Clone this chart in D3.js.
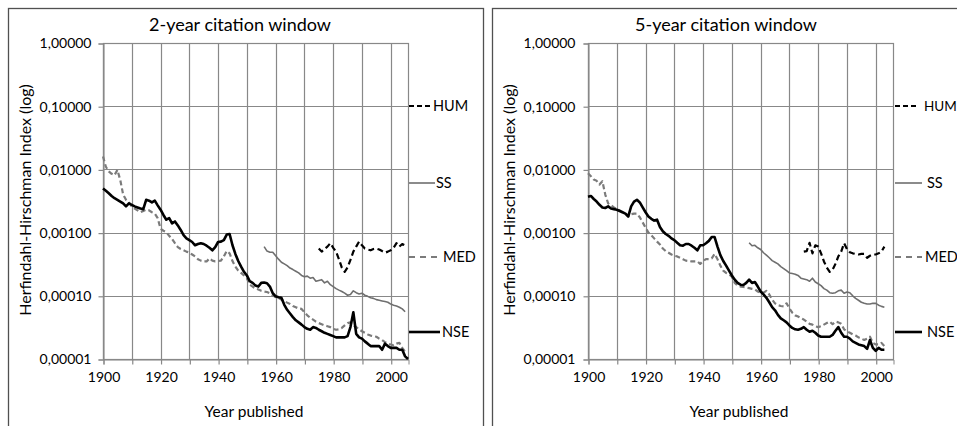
<!DOCTYPE html>
<html><head><meta charset="utf-8">
<script src="https://cdn.jsdelivr.net/npm/d3@7"></script>
<style>body{margin:0;background:#fff}svg{display:block}</style>
</head><body>
<svg id="c" width="957" height="426"></svg>
<script>
// ---------- DATA (Herfindahl-Hirschman Index) ----------
const panelTitles = ["2-year citation window", "5-year citation window"];
const seriesNames = ["HUM", "SS", "MED", "NSE"];
const xTickYears = [1900, 1920, 1940, 1960, 1980, 2000];
const xGridYears = [1900, 1910, 1920, 1930, 1940, 1950, 1960, 1970, 1980, 1990, 2000];
const yTickValues = [1, 0.1, 0.01, 0.001, 0.0001, 0.00001];

// 2-year window
const nse2Start = 1900;
const nse2 = [5.0e-3,4.6e-3,4.2e-3,3.8e-3,3.5e-3,3.3e-3,3.1e-3,2.9e-3,2.6e-3,2.9e-3,
  2.75e-3,2.6e-3,2.5e-3,2.4e-3,2.35e-3,3.3e-3,3.2e-3,3.0e-3,3.2e-3,2.7e-3,
  2.3e-3,1.9e-3,1.6e-3,1.7e-3,1.4e-3,1.5e-3,1.3e-3,1.1e-3,9.1e-4,8.1e-4,
  7.6e-4,7.1e-4,6.3e-4,6.6e-4,6.8e-4,6.6e-4,6.2e-4,5.75e-4,5.25e-4,5.9e-4,
  7.1e-4,7.2e-4,7.6e-4,9.3e-4,9.5e-4,6.3e-4,4.6e-4,3.55e-4,2.9e-4,2.4e-4,
  2.1e-4,1.7e-4,1.6e-4,1.45e-4,1.4e-4,1.6e-4,1.62e-4,1.58e-4,1.4e-4,1.1e-4,
  9.8e-5,9.5e-5,9.3e-5,7.2e-5,6.0e-5,5.25e-5,4.6e-5,4.1e-5,3.8e-5,3.5e-5,
  3.2e-5,3.0e-5,2.9e-5,3.2e-5,3.1e-5,2.9e-5,2.75e-5,2.6e-5,2.5e-5,2.4e-5,
  2.3e-5,2.2e-5,2.2e-5,2.2e-5,2.2e-5,2.3e-5,3.2e-5,5.5e-5,2.5e-5,2.2e-5,
  2.1e-5,1.9e-5,1.75e-5,1.6e-5,1.6e-5,1.6e-5,1.6e-5,1.4e-5,1.75e-5,1.6e-5,
  1.5e-5,1.5e-5,1.5e-5,1.4e-5,1.4e-5,1.1e-5,1.0e-5];
const med2Start = 1900;
const med2 = [1.6e-2,1.1e-2,9.3e-3,8.5e-3,8.1e-3,9.8e-3,6.8e-3,4.0e-3,3.3e-3,3.0e-3,
  2.6e-3,2.4e-3,2.25e-3,2.1e-3,2.2e-3,2.3e-3,2.25e-3,2.1e-3,2.0e-3,1.7e-3,
  1.15e-3,1.07e-3,1.02e-3,8.9e-4,7.9e-4,6.8e-4,5.9e-4,5.5e-4,5.25e-4,5.0e-4,
  4.8e-4,4.5e-4,4.2e-4,3.8e-4,3.6e-4,3.5e-4,3.5e-4,3.9e-4,3.6e-4,3.5e-4,
  3.55e-4,3.6e-4,4.2e-4,5.1e-4,4.7e-4,3.55e-4,2.9e-4,2.5e-4,2.3e-4,2.1e-4,
  1.9e-4,1.5e-4,1.4e-4,1.3e-4,1.26e-4,1.2e-4,1.17e-4,1.15e-4,1.1e-4,1.02e-4,
  9.5e-5,9.3e-5,8.7e-5,8.3e-5,7.8e-5,7.4e-5,6.9e-5,6.6e-5,6.3e-5,6.2e-5,
  5.5e-5,4.9e-5,4.5e-5,4.2e-5,3.9e-5,3.7e-5,3.55e-5,3.4e-5,3.3e-5,3.2e-5,
  3.0e-5,2.9e-5,2.95e-5,3.1e-5,3.4e-5,3.7e-5,3.8e-5,3.4e-5,3.2e-5,2.95e-5,
  2.75e-5,2.6e-5,2.45e-5,2.35e-5,2.3e-5,2.25e-5,2.1e-5,2.0e-5,1.85e-5,1.75e-5,
  1.7e-5,1.65e-5,1.75e-5,1.8e-5,1.5e-5,1.3e-5];
const ss2Start = 1956;
const ss2 = [6.0e-4,5.1e-4,4.9e-4,4.9e-4,4.3e-4,3.8e-4,3.4e-4,3.2e-4,3.0e-4,2.75e-4,
  2.6e-4,2.45e-4,2.3e-4,2.1e-4,2.0e-4,2.05e-4,1.9e-4,1.95e-4,1.7e-4,1.75e-4,
  1.8e-4,1.6e-4,1.7e-4,1.5e-4,1.4e-4,1.3e-4,1.23e-4,1.17e-4,1.1e-4,1.02e-4,
  1.05e-4,1.2e-4,1.12e-4,1.07e-4,1.1e-4,1.02e-4,9.8e-5,9.3e-5,9.1e-5,8.7e-5,
  8.5e-5,8.3e-5,8.1e-5,7.9e-5,7.4e-5,7.1e-5,6.9e-5,6.6e-5,6.2e-5,5.6e-5];
const hum2Start = 1975;
const hum2 = [5.6e-4,5.0e-4,5.5e-4,6.0e-4,6.8e-4,5.75e-4,5.0e-4,3.8e-4,2.8e-4,2.4e-4,
  2.8e-4,3.7e-4,5.0e-4,6.0e-4,7.2e-4,6.3e-4,5.6e-4,5.4e-4,5.25e-4,5.5e-4,
  5.6e-4,5.4e-4,5.1e-4,4.8e-4,5.0e-4,5.25e-4,5.75e-4,6.8e-4,6.0e-4,6.6e-4,6.3e-4];

// 5-year window
const nse5Start = 1900;
const nse5 = [3.7e-3,3.8e-3,3.4e-3,3.1e-3,2.75e-3,2.5e-3,2.45e-3,2.6e-3,2.4e-3,2.35e-3,
  2.3e-3,2.2e-3,2.1e-3,2.0e-3,1.8e-3,2.6e-3,3.1e-3,3.3e-3,3.0e-3,2.5e-3,
  2.1e-3,1.8e-3,1.65e-3,1.55e-3,1.6e-3,1.23e-3,1.05e-3,9.5e-4,8.9e-4,8.1e-4,
  7.6e-4,6.9e-4,6.3e-4,6.2e-4,6.6e-4,6.6e-4,6.2e-4,5.75e-4,5.25e-4,6.3e-4,
  6.3e-4,6.8e-4,7.4e-4,8.5e-4,8.5e-4,6.0e-4,4.4e-4,3.55e-4,3.0e-4,2.5e-4,
  2.1e-4,1.8e-4,1.6e-4,1.5e-4,1.48e-4,1.6e-4,1.8e-4,1.6e-4,1.65e-4,1.4e-4,
  1.17e-4,1.05e-4,9.3e-5,7.9e-5,6.6e-5,5.9e-5,5.0e-5,4.4e-5,4.1e-5,3.8e-5,
  3.4e-5,3.1e-5,2.95e-5,2.9e-5,3.0e-5,3.2e-5,2.9e-5,2.7e-5,2.8e-5,2.6e-5,
  2.35e-5,2.25e-5,2.25e-5,2.25e-5,2.25e-5,2.4e-5,2.8e-5,3.2e-5,2.6e-5,2.25e-5,
  2.25e-5,2.1e-5,1.9e-5,1.8e-5,1.7e-5,1.65e-5,1.6e-5,1.45e-5,2.0e-5,1.5e-5,
  1.35e-5,1.5e-5,1.4e-5,1.4e-5];
const med5Start = 1900;
const med5 = [8.7e-3,7.8e-3,6.9e-3,6.6e-3,5.75e-3,6.5e-3,4.0e-3,2.9e-3,2.7e-3,2.5e-3,
  2.35e-3,2.25e-3,2.1e-3,2.0e-3,1.8e-3,1.95e-3,2.0e-3,2.0e-3,1.75e-3,1.45e-3,
  1.2e-3,1.0e-3,9.1e-4,8.1e-4,7.2e-4,6.5e-4,5.6e-4,5.1e-4,4.8e-4,4.5e-4,
  4.3e-4,4.2e-4,4.0e-4,3.8e-4,3.6e-4,3.55e-4,3.5e-4,3.5e-4,3.5e-4,3.2e-4,
  3.55e-4,3.8e-4,3.8e-4,3.9e-4,4.6e-4,3.8e-4,3.0e-4,2.5e-4,2.3e-4,2.2e-4,
  2.0e-4,1.6e-4,1.45e-4,1.4e-4,1.38e-4,1.35e-4,1.32e-4,1.29e-4,1.26e-4,1.17e-4,
  1.12e-4,1.12e-4,1.2e-4,1.05e-4,8.7e-5,7.6e-5,7.1e-5,6.9e-5,6.8e-5,7.6e-5,
  6.3e-5,5.4e-5,4.9e-5,4.7e-5,4.4e-5,4.2e-5,3.9e-5,3.6e-5,3.5e-5,3.3e-5,
  3.2e-5,3.3e-5,3.5e-5,3.7e-5,3.9e-5,3.55e-5,3.9e-5,3.8e-5,3.6e-5,2.95e-5,
  2.75e-5,2.6e-5,2.45e-5,2.35e-5,2.2e-5,2.1e-5,2.0e-5,2.1e-5,2.25e-5,1.8e-5,
  1.7e-5,1.7e-5,1.8e-5,1.6e-5];
const ss5Start = 1956;
const ss5 = [6.9e-4,6.2e-4,6.3e-4,5.75e-4,5.4e-4,4.8e-4,4.4e-4,4.0e-4,3.6e-4,3.4e-4,
  3.2e-4,2.9e-4,2.7e-4,2.5e-4,2.3e-4,2.25e-4,2.2e-4,2.1e-4,1.9e-4,1.85e-4,
  1.8e-4,1.7e-4,1.9e-4,1.65e-4,1.55e-4,1.45e-4,1.3e-4,1.23e-4,1.12e-4,1.1e-4,
  1.12e-4,1.2e-4,1.23e-4,1.1e-4,1.15e-4,1.12e-4,1.0e-4,9.1e-5,8.5e-5,7.9e-5,
  7.6e-5,7.4e-5,7.4e-5,7.6e-5,7.6e-5,7.1e-5,6.8e-5,6.6e-5];
const hum5Start = 1975;
const hum5 = [5.0e-4,5.1e-4,6.9e-4,4.7e-4,6.3e-4,6.0e-4,4.7e-4,3.5e-4,2.8e-4,2.4e-4,
  2.6e-4,3.2e-4,4.2e-4,5.0e-4,6.8e-4,5.5e-4,4.9e-4,4.7e-4,4.6e-4,4.5e-4,
  4.6e-4,4.6e-4,4.0e-4,4.3e-4,4.5e-4,4.5e-4,4.7e-4,5.0e-4,6.0e-4];

// ---------- STYLE / LAYOUT ----------
const FONT = "Lato, 'Open Sans', sans-serif";
const TEXT = "#000";
const styles = {
  HUM: {color: "#000", width: 2.2, dash: "6,3.5", legendDash: "5,3"},
  SS:  {color: "#6f6f6f", width: 1.6, dash: null, legendDash: null},
  MED: {color: "#7b7b7b", width: 2.2, dash: "5,3", legendDash: "6,5"},
  NSE: {color: "#000", width: 2.6, dash: null, legendDash: null}
};
const gridColor = "#888";

const panels = [
  {title: panelTitles[0], frame: [8, 8, 475], plot: [103, 408, 43, 359],
   titleX: 240, yLabX: 91, yTitleX: 25, xTitleX: 254,
   legendX: 409, legendLen: [21, 26, 28, 31], legendTextX: [433, 436, 443, 442], legendFont: [14.5, 14.5, 14.5, 14.5],
   series: {HUM: [hum2Start, hum2], SS: [ss2Start, ss2], MED: [med2Start, med2], NSE: [nse2Start, nse2]}},
  {title: panelTitles[1], frame: [492, 8, 480], plot: [588, 893, 43, 359],
   titleX: 726, yLabX: 575, yTitleX: 509, xTitleX: 739,
   legendX: 895, legendLen: [24, 27, 27, 27], legendTextX: [924, 927, 925, 927], legendFont: [13.5, 14.5, 14.5, 14.5],
   series: {HUM: [hum5Start, hum5], SS: [ss5Start, ss5], MED: [med5Start, med5], NSE: [nse5Start, nse5]}}
];
const legendY = [106, 183, 257, 332];

const svg = d3.select("#c");
svg.append("rect").attr("width", 957).attr("height", 426).attr("fill", "#fff");

const fmt = v => v.toFixed(5).replace(".", ",");

panels.forEach(p => {
  const [px0, px1, py0, py1] = p.plot;
  const x = d3.scaleLinear().domain([1900, 2006]).range([px0, px1]);
  const y = d3.scaleLog().domain([0.00001, 1]).range([py1, py0]);
  const g = svg.append("g");

  // frame
  g.append("rect").attr("x", p.frame[0] + 0.5).attr("y", p.frame[1] + 0.5)
    .attr("width", p.frame[2]).attr("height", 460)
    .attr("fill", "none").attr("stroke", "#505050").attr("stroke-width", 1.3);

  // grid
  g.append("g").selectAll("line").data(yTickValues).join("line")
    .attr("x1", px0).attr("x2", px1).attr("y1", d => Math.round(y(d)) + 0.5).attr("y2", d => Math.round(y(d)) + 0.5)
    .attr("stroke", gridColor).attr("stroke-width", 1.2);
  g.append("g").selectAll("line").data(xGridYears).join("line")
    .attr("x1", d => Math.round(x(d)) + 0.5).attr("x2", d => Math.round(x(d)) + 0.5).attr("y1", py0).attr("y2", py1)
    .attr("stroke", gridColor).attr("stroke-width", 1.2);
  g.append("rect").attr("x", px0 + 0.5).attr("y", py0 + 0.5).attr("width", px1 - px0).attr("height", py1 - py0)
    .attr("fill", "none").attr("stroke", gridColor).attr("stroke-width", 1.2);

  // axes
  const xa = g.append("g").attr("transform", `translate(0.5,${py1 + 0.5})`)
    .call(d3.axisBottom(x).tickValues(xGridYears).tickSize(5).tickFormat(d => xTickYears.includes(d) ? d : ""));
  xa.select(".domain").attr("stroke", gridColor);
  xa.selectAll(".tick line").attr("stroke", gridColor).attr("stroke-width", 1.2);
  xa.selectAll("text").attr("font-family", FONT).attr("font-size", 14).attr("fill", TEXT).attr("dy", "1.0em");

  const ya = g.append("g").attr("transform", `translate(${px0 + 0.5},0.5)`)
    .call(d3.axisLeft(y).tickValues(yTickValues).tickSize(5).tickFormat(fmt));
  ya.select(".domain").attr("stroke", gridColor);
  ya.selectAll(".tick line").attr("stroke", gridColor).attr("stroke-width", 1.2);
  ya.selectAll("text").attr("font-family", FONT).attr("font-size", 14).attr("fill", TEXT)
    .attr("x", p.yLabX - px0);

  // series
  const line = d3.line().x(d => x(d[0])).y(d => y(d[1]));
  ["SS", "MED", "HUM", "NSE"].forEach(name => {
    const [start, vals] = p.series[name];
    const pts = vals.map((v, i) => [start + i, v]);
    const st = styles[name];
    g.append("path").datum(pts).attr("d", line).attr("fill", "none")
      .attr("stroke", st.color).attr("stroke-width", st.width)
      .attr("stroke-dasharray", st.dash).attr("stroke-linejoin", "round");
  });

  // legend
  seriesNames.forEach((name, i) => {
    const st = styles[name];
    g.append("line").attr("x1", p.legendX).attr("x2", p.legendX + p.legendLen[i])
      .attr("y1", legendY[i]).attr("y2", legendY[i])
      .attr("stroke", st.color).attr("stroke-width", st.width)
      .attr("stroke-dasharray", st.legendDash);
    g.append("text").attr("x", p.legendTextX[i]).attr("y", legendY[i]).attr("dy", "0.36em")
      .attr("font-family", FONT).attr("font-size", p.legendFont[i]).attr("fill", TEXT).text(name);
  });

  // titles
  g.append("text").attr("x", p.titleX).attr("y", 31).attr("text-anchor", "middle")
    .attr("font-family", FONT).attr("font-size", 18).attr("fill", TEXT).text(p.title);
  g.append("text").attr("x", p.xTitleX).attr("y", 417).attr("text-anchor", "middle")
    .attr("font-family", FONT).attr("font-size", 15.5).attr("fill", TEXT).text("Year published");
  g.append("text").attr("transform", `translate(${p.yTitleX + 6},${(py0 + py1) / 2 - 1}) rotate(-90)`)
    .attr("text-anchor", "middle").attr("font-family", FONT).attr("font-size", 16).attr("fill", TEXT)
    .text("Herfindahl-Hirschman  Index (log)");
});
</script>
</body></html>
